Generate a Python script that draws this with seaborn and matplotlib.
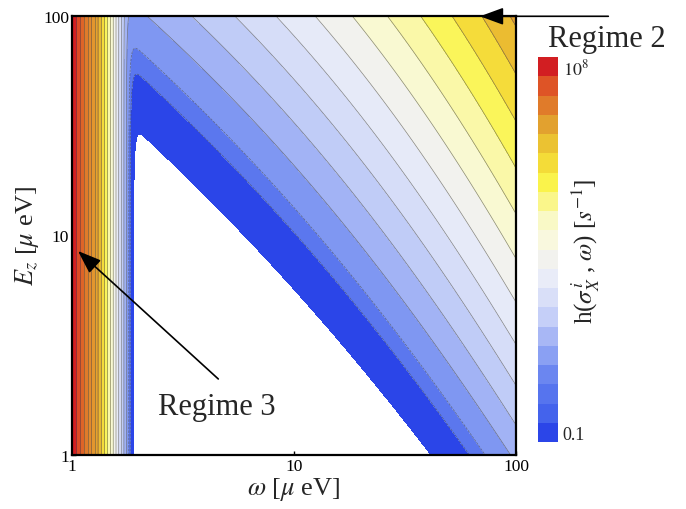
"""Contour map of the relaxation rate h(sigma_X^i, omega) over omega and E_z."""
import matplotlib
matplotlib.use("Agg")
import matplotlib.pyplot as plt
from matplotlib.colors import ListedColormap, BoundaryNorm
from matplotlib.cm import ScalarMappable
from matplotlib.ticker import FixedLocator, FixedFormatter, NullLocator
import numpy as np
import seaborn as sns

# legend: 20 bands, centres of the end bands at 0.1 and 1e8
LEGEND_EXPONENTS = [-1, 8]
N_BANDS = 20
# contour edges in band units (the lowest, dark blue band is drawn wider)
CONTOUR_EDGES = [0, 1.4, 2, 3, 4, 5, 6, 7, 8, 9, 10,
                 11, 12, 13, 14, 15, 16, 17, 18, 19, 20]

# regime 3 strip: band index falls linearly with omega (reaches 0 near omega = 1.89)
LEFT_COEFS = [42.34, 22.39]
# diagonal bands, in band units: terms in log(omega) ...
RIGHT_X_COEFS = [1.362, 4.815, 0.2784]
# ... terms in u = log(100 / E_z) ...
RIGHT_Y_COEFS = [4.6, 0.1]
# ... and a small cross term
RIGHT_CROSS = 0.43

AXIS_TICKS = [1, 10, 100]
AXIS_TICK_LABELS = ["1", "10", "100"]

PLOT_COLORS = ["#2b45e8", "#5b77ee", "#7f97f2", "#a2b3f5", "#c0ccf7",
               "#d6ddf8", "#e6eaf8", "#f2f2ee", "#f9f9d2", "#faf8a8",
               "#faf55a", "#f5dc3a", "#ebbc31", "#e5a22f", "#e3962e",
               "#e28a2d", "#e07b2a", "#df6427", "#dd4a25", "#d21e22"]
LEGEND_COLORS = ["#2b45e8", "#4463ec", "#5674ee", "#6b86f0", "#8aa0f3",
                 "#a8b7f5", "#c5cff8", "#d9dff8", "#e9ecf8", "#f2f2ee",
                 "#f9f8de", "#f9f9c6", "#faf68a", "#faf34b", "#f4dc38",
                 "#ebc232", "#e2a12f", "#e07b2a", "#de5426", "#d21e22"]

sns.set_style("ticks")
plt.rcParams["font.family"] = ["Liberation Serif", "DejaVu Serif"]
plt.rcParams["mathtext.fontset"] = "stix"

step = (LEGEND_EXPONENTS[1] - LEGEND_EXPONENTS[0]) / (N_BANDS - 1)
base = LEGEND_EXPONENTS[0] - step / 2
legend_levels = base + step * np.arange(N_BANDS + 1)
plot_levels = base + step * np.array(CONTOUR_EDGES)

omega = np.logspace(0, 2, 1000)
ez = np.logspace(0, 2, 1000)
W, E = np.meshgrid(omega, ez)
lx = np.log10(W)
u = 2 - np.log10(E)

k_left = LEFT_COEFS[0] - LEFT_COEFS[1] * W
k_right = (RIGHT_X_COEFS[0] + RIGHT_X_COEFS[1] * lx + RIGHT_X_COEFS[2] * lx ** 3
           - RIGHT_Y_COEFS[0] * u - RIGHT_Y_COEFS[1] * u ** 3
           - RIGHT_CROSS * (2 - lx) * u)
lnb = step * np.log(10)
k = np.logaddexp(k_left * lnb, k_right * lnb) / lnb
log_h = base + k * step

fig = plt.figure(figsize=(6.86, 5.10), dpi=100)
ax = fig.add_axes([72 / 686, 1 - 456 / 510, 444 / 686, 439 / 510])

palette = sns.color_palette(PLOT_COLORS)
ax.contourf(W, E, log_h, levels=plot_levels, colors=palette)
ax.contour(W, E, log_h, levels=plot_levels[1:], colors="#4a4a4a",
           linewidths=0.5, alpha=0.65)

ax.set_xscale("log")
ax.set_yscale("log")
ax.set_xlim(1, 100)
ax.set_ylim(1, 100)
for axis in (ax.xaxis, ax.yaxis):
    axis.set_major_locator(FixedLocator(AXIS_TICKS))
    axis.set_major_formatter(FixedFormatter(AXIS_TICK_LABELS))
    axis.set_minor_locator(NullLocator())
ax.tick_params(direction="in", length=3, width=1, labelsize=12.5, pad=2,
               colors="black")
for sp in ax.spines.values():
    sp.set_visible(True)
    sp.set_linewidth(1.6)
    sp.set_color("black")

ax.set_xlabel(r"$\omega$ [$\mu$ eV]", fontsize=19)
ax.xaxis.set_label_coords(0.5, -0.077)
ax.xaxis.label.set_verticalalignment("center")
ax.set_ylabel(r"$E_z$ [$\mu$ eV]", fontsize=19)
ax.yaxis.set_label_coords(-0.101, 0.5)
ax.yaxis.label.set_verticalalignment("center")

arrow = dict(arrowstyle="-|>,head_length=0.6,head_width=0.22", color="black",
             lw=1.2, mutation_scale=24, shrinkA=0, shrinkB=0)
ax.annotate("", xy=(1.064, 8.5), xytext=(4.56, 2.22), arrowprops=arrow)
ax.annotate("", xy=(68.8, 99.7), xytext=(260.5, 99.7), arrowprops=arrow,
            annotation_clip=False)
fig.text(158 / 686, 1 - 415 / 510, "Regime 3", fontsize=22,
         ha="left", va="baseline")
fig.text(548 / 686, 1 - 46.7 / 510, "Regime 2", fontsize=22,
         ha="left", va="baseline")

cax = fig.add_axes([538 / 686, 1 - 443 / 510, 20 / 686, 385 / 510])
sm = ScalarMappable(norm=BoundaryNorm(legend_levels, N_BANDS),
                    cmap=ListedColormap(LEGEND_COLORS))
cb = fig.colorbar(sm, cax=cax)
cb.set_ticks(LEGEND_EXPONENTS)
cb.set_ticklabels(["0.1", r"$10^8$"])
cb.minorticks_off()
cb.outline.set_visible(False)
cax.tick_params(which="both", length=0, pad=3.5, labelsize=13)
fig.text(585 / 686, 1 - 251 / 510, r"h($\sigma_X^{\,i}$ , $\omega$) [$s^{-1}$]",
         fontsize=18, rotation=90, ha="center", va="center")

fig.savefig("out.png", dpi=100)
